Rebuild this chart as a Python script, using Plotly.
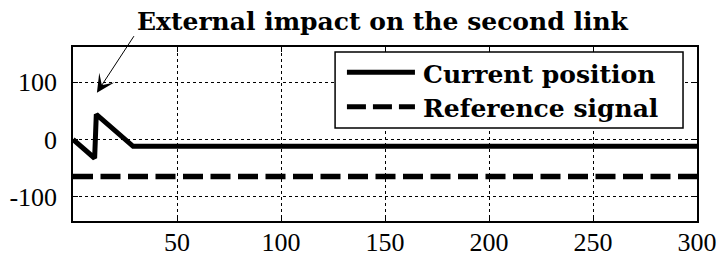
import plotly.graph_objects as go

# Data
t_current = [0, 10.4, 11.2, 18.5, 28.9, 300]
y_current = [0, -33, 44, 22, -12, -12]
t_ref = [0, 300]
y_ref = [-65, -65]

x_tickvals = [50, 100, 150, 200, 250, 300]
x_ticktext = ["50", "100", "150", "200", "250", "300"]
y_tickvals = [-100, 0, 100]
y_ticktext = ["-100", "0", "100"]

series_names = ["Current position", "Reference signal"]
title_text = "External impact on the second link"
arrow_target = (11.5, 82)

fig = go.Figure()
fig.add_trace(go.Scatter(x=t_current, y=y_current, mode="lines",
                         line=dict(color="black", width=5), name=series_names[0],
                         showlegend=False))
fig.add_trace(go.Scatter(x=t_ref, y=y_ref, mode="lines",
                         line=dict(color="black", width=5.3, dash="20px,7.5px"),
                         name=series_names[1], showlegend=False))

tickfont = dict(family="Liberation Serif, Times New Roman, serif", size=26, color="black")
boldfont = dict(family="DejaVu Serif", size=25, color="black")

fig.update_xaxes(range=[0, 300], tickvals=x_tickvals, ticktext=x_ticktext, automargin=False,
                 showline=True, linecolor="black", linewidth=1.5, mirror="ticks",
                 ticks="inside", ticklen=5, tickcolor="black",
                 showgrid=True, gridcolor="black", gridwidth=1, griddash="3px,3px",
                 zeroline=False, tickfont=tickfont, ticklabelstandoff=-3)
fig.update_yaxes(range=[-143, 162], tickvals=y_tickvals, ticktext=y_ticktext, automargin=False,
                 showline=True, linecolor="black", linewidth=1.5, mirror="ticks",
                 ticks="inside", ticklen=5, tickcolor="black",
                 showgrid=True, gridcolor="black", gridwidth=1, griddash="3px,3px",
                 zeroline=False, tickfont=tickfont, ticklabelstandoff=9)

# Manual legend
fig.add_shape(type="rect", xref="paper", yref="paper", x0=0.420, x1=0.9776, y0=0.534, y1=0.971,
              line=dict(color="black", width=1.5), fillcolor="white", layer="above")
fig.add_shape(type="line", xref="paper", yref="paper", x0=0.439, x1=0.548, y0=0.855, y1=0.855,
              line=dict(color="black", width=5), layer="above")
fig.add_shape(type="line", xref="paper", yref="paper", x0=0.439, x1=0.548, y0=0.657, y1=0.657,
              line=dict(color="black", width=5, dash="19px,7px"), layer="above")
fig.add_annotation(xref="paper", yref="paper", x=0.557, y=0.84, xanchor="left", yanchor="middle",
                   text="<b>%s</b>" % series_names[0], showarrow=False, font=boldfont)
fig.add_annotation(xref="paper", yref="paper", x=0.557, y=0.645, xanchor="left", yanchor="middle",
                   text="<b>%s</b>" % series_names[1], showarrow=False, font=boldfont)

# Title text and arrow
fig.add_annotation(xref="paper", yref="paper", x=(383 - 73) / 624, y=(221 - 21) / 174,
                   xanchor="center", yanchor="middle", text="<b>%s</b>" % title_text,
                   showarrow=False, font=boldfont)
fig.add_annotation(x=arrow_target[0], y=arrow_target[1], xref="x", yref="y",
                   text="", showarrow=True, ax=38, ay=-58, arrowhead=3,
                   arrowsize=3, arrowwidth=1, arrowcolor="black", standoff=0)

fig.update_layout(width=721, height=258, margin=dict(l=73, r=24, t=47, b=37),
                  plot_bgcolor="white", paper_bgcolor="white", showlegend=False)

fig.write_html("out.html", config={"displayModeBar": False},
               post_script="document.body.style.margin='0';")
